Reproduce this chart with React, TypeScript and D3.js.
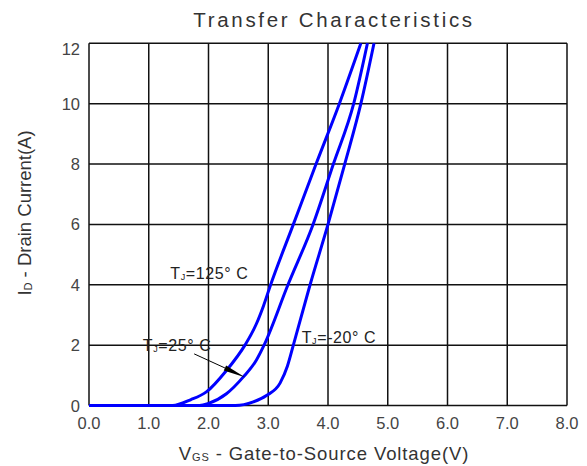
import React from 'react';
import * as d3 from 'd3';

const xTicks = [0, 1, 2, 3, 4, 5, 6, 7, 8];
const xTickLabels = ['0.0', '1.0', '2.0', '3.0', '4.0', '5.0', '6.0', '7.0', '8.0'];
const yTicks = [0, 2, 4, 6, 8, 10, 12];
const yTickLabels = ['0', '2', '4', '6', '8', '10', '12'];

const vgs125 = [0, 1.40, 1.70, 1.97, 2.30, 2.61, 2.80, 2.92, 3.04, 3.42, 3.80, 4.19, 4.55];
const id125 = [0, 0, 0.19, 0.46, 1.16, 2.0, 2.7, 3.3, 4.0, 6.0, 8.0, 10, 12];

const vgs25 = [0, 1.85, 2.0, 2.30, 2.58, 2.80, 2.93, 3.33, 3.75, 4.09, 4.43, 4.66];
const id25 = [0, 0, 0.07, 0.39, 0.94, 1.5, 2.0, 4.0, 6.0, 8.0, 10, 12];

const vgsM20 = [0, 2.45, 2.75, 2.97, 3.20, 3.32, 3.42, 3.70, 4.00, 4.28, 4.55, 4.77];
const idM20 = [0, 0, 0.12, 0.33, 0.75, 1.3, 2.0, 4.0, 6.0, 8.0, 10, 12];

const seriesX = [vgs125, vgs25, vgsM20];
const seriesY = [id125, id25, idM20];

// label anchors in data units
const labelTemps = ['125° C', '25° C', '-20° C'];
const labelX = [1.36, 0.90, 3.56];
const labelY = [4.19, 1.79, 2.07];
const arrowFrom = [1.76, 1.71];
const arrowTo = [2.61, 0.94];

const W = 587;
const H = 466;
const FONT = '"Liberation Sans", Arial, Helvetica, sans-serif';

export default function App() {
  const x = d3.scaleLinear().domain([0, 8]).range([89, 567]);
  const y = d3.scaleLinear().domain([0, 12]).range([405.5, 43.3]);
  const line = d3
    .line<[number, number]>()
    .x((d) => x(d[0]))
    .y((d) => y(d[1]))
    .curve(d3.curveMonotoneX);

  const ax0 = x(arrowFrom[0]);
  const ay0 = y(arrowFrom[1]);
  const ax1 = x(arrowTo[0]);
  const ay1 = y(arrowTo[1]);
  const len = Math.hypot(ax1 - ax0, ay1 - ay0);
  const ux = (ax1 - ax0) / len;
  const uy = (ay1 - ay0) / len;
  const headLen = 22;
  const headW = 2.8;
  const bx = ax1 - ux * headLen;
  const by = ay1 - uy * headLen;
  const head = `M${ax1},${ay1} L${bx - uy * headW},${by + ux * headW} L${bx + uy * headW},${by - ux * headW} Z`;

  return (
    <svg
      width={W}
      height={H}
      style={{ position: 'absolute', left: 0, top: 0, background: '#fff' }}
      fontFamily={FONT}
    >
      <rect x={0} y={0} width={W} height={H} fill="#fff" />
      <text x={334} y={27} textAnchor="middle" fontSize={20.5} letterSpacing={2.7} fill="#333">
        Transfer Characteristics
      </text>

      {/* grid */}
      {xTicks.map((t) => (
        <line key={'gx' + t} x1={x(t)} x2={x(t)} y1={y(0)} y2={y(12)} stroke="#111" strokeWidth={1.5} />
      ))}
      {yTicks.map((t) => (
        <line key={'gy' + t} x1={x(0)} x2={x(8)} y1={y(t)} y2={y(t)} stroke="#111" strokeWidth={1.5} />
      ))}

      {/* tick labels */}
      {xTicks.map((t, i) => (
        <text key={'tx' + t} x={x(t)} y={429} textAnchor="middle" fontSize={16.5} fill="#444">
          {xTickLabels[i]}
        </text>
      ))}
      {yTicks.map((t, i) => (
        <text
          key={'ty' + t}
          x={80}
          y={Math.max(y(t), 49) + 6}
          textAnchor="end"
          fontSize={16.5}
          fill="#444"
        >
          {yTickLabels[i]}
        </text>
      ))}

      {/* curves */}
      {seriesX.map((xs, si) => (
        <path
          key={'s' + si}
          d={line(xs.map((v, i) => [v, seriesY[si][i]] as [number, number])) || ''}
          fill="none"
          stroke="#0000ff"
          strokeWidth={3}
          strokeLinejoin="round"
        />
      ))}

      {/* annotations */}
      {labelTemps.map((lt, i) => (
        <text
          key={'lab' + i}
          x={x(labelX[i])}
          y={y(labelY[i])}
          fontSize={16}
          letterSpacing={0.6}
          fill="#222"
        >
          T<tspan fontSize={9} dy={1}>J</tspan>
          <tspan dy={-1}>={lt}</tspan>
        </text>
      ))}
      <line x1={ax0} y1={ay0} x2={bx} y2={by} stroke="#000" strokeWidth={1} />
      <path d={head} fill="#000" />

      {/* axis titles */}
      <text x={324} y={460} textAnchor="middle" fontSize={18.5} fill="#333" letterSpacing={0.9}>
        V<tspan fontSize={11} dy={1}>GS</tspan>
        <tspan dy={-1}> - Gate-to-Source Voltage(V)</tspan>
      </text>
      <text
        transform="translate(31,213) rotate(-90)"
        textAnchor="middle"
        fontSize={18.5}
        fill="#333"
      >
        I<tspan fontSize={11} dy={1}>D</tspan>
        <tspan dy={-1}> - Drain Current(A)</tspan>
      </text>
    </svg>
  );
}
